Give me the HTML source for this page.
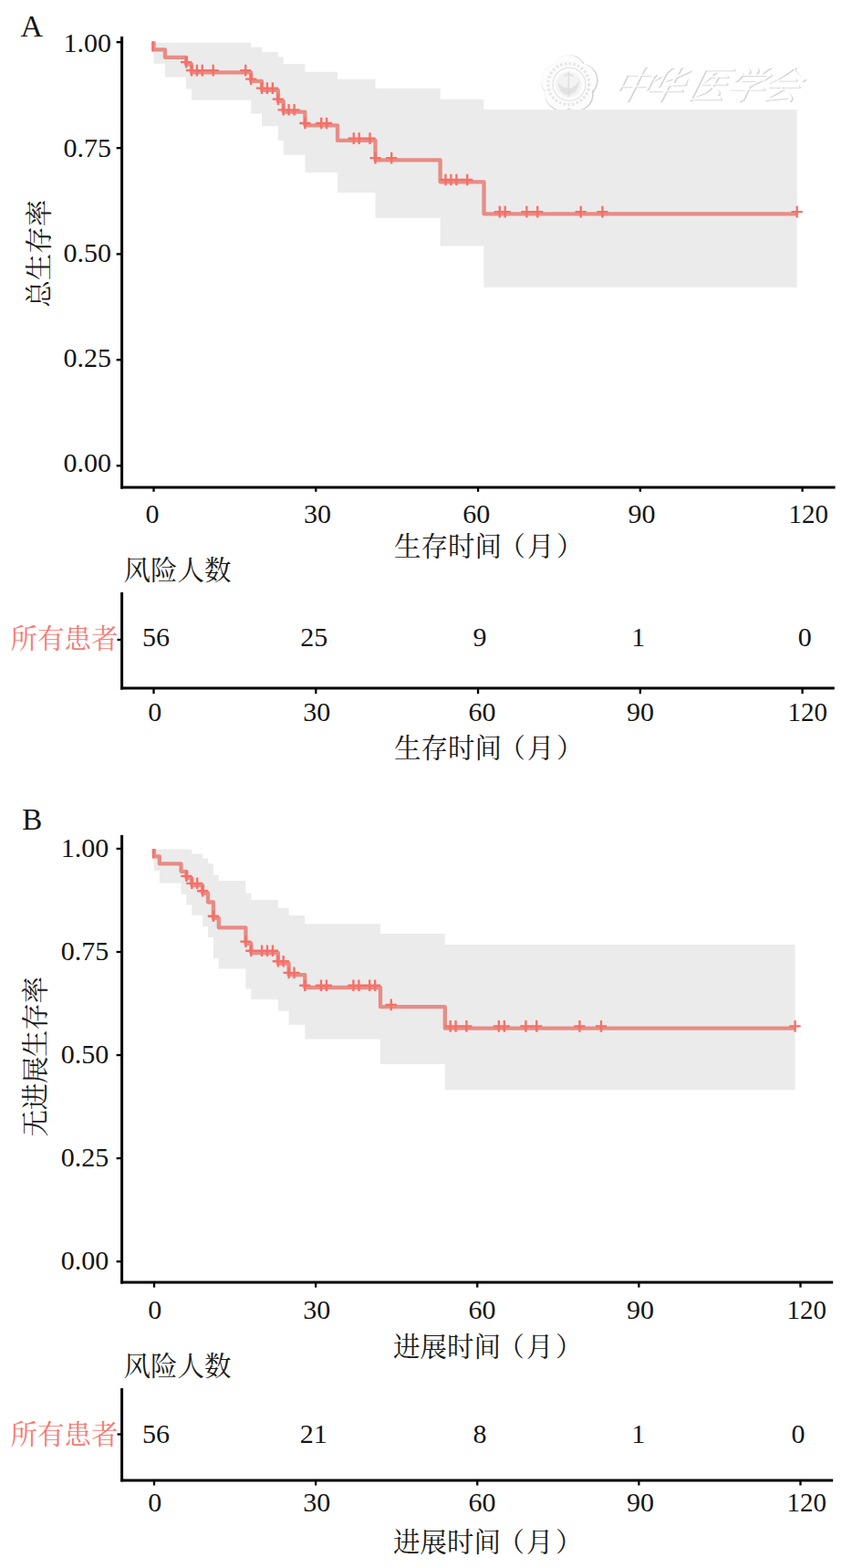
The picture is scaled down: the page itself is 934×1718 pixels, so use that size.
<!DOCTYPE html>
<html><head><meta charset="utf-8"><title>KM</title>
<style>
html,body{margin:0;padding:0;background:#fff;}
svg{display:block;font-family:"Liberation Serif","Noto Serif CJK SC",serif;}
.d{font-family:"Liberation Serif","Noto Serif CJK SC",serif;font-size:30px;fill:#141414;}
.d2{font-family:"Liberation Serif","Noto Serif CJK SC",serif;font-size:29px;fill:#141414;}
.c{font-family:"Liberation Serif","Noto Serif CJK SC",serif;font-size:29.5px;fill:#1a1a1a;}
.r{font-family:"Liberation Serif","Noto Serif CJK SC",serif;font-size:29.5px;fill:#F47A72;}
.w{font-family:"Liberation Serif","Noto Serif CJK SC",serif;font-size:42px;font-style:italic;}
</style></head><body>
<svg width="934" height="1718" viewBox="0 0 934 1718">
<defs>
<filter id="wb" x="-5%" y="-5%" width="110%" height="110%"><feGaussianBlur stdDeviation="0.55"/></filter>
</defs>
<desc>Kaplan-Meier 曲线。A：总生存率 / 生存时间（月），风险人数 所有患者 56 25 9 1 0；B：无进展生存率 / 进展时间（月），风险人数 所有患者 56 21 8 1 0</desc>
<rect width="934" height="1718" fill="#fff"/>
<g filter="url(#wb)"><text class="w" fill="#d6d6d6" transform="translate(0,109.4) skewX(-14)" x="669.4 705.4 752.4 794.4 833.4" y="0">中华医学会</text><text class="w" fill="#ffffff" transform="translate(0,108) skewX(-14)" x="668 704 751 793 832" y="0">中华医学会</text><g fill="none" stroke="#d2d2d2" stroke-width="1.7"><circle cx="624.2" cy="79.0" r="17.8"/><circle cx="637.0" cy="88.3" r="17.8"/><circle cx="632.1" cy="103.4" r="17.8"/><circle cx="616.3" cy="103.4" r="17.8"/><circle cx="611.4" cy="88.3" r="17.8"/></g><g fill="#fcfcfc" stroke="none" stroke-width="0"><circle cx="623.3" cy="78.1" r="17.8"/><circle cx="636.1" cy="87.4" r="17.8"/><circle cx="631.2" cy="102.5" r="17.8"/><circle cx="615.4" cy="102.5" r="17.8"/><circle cx="610.5" cy="87.4" r="17.8"/></g><circle cx="623.3" cy="92.1" r="22.5" fill="none" stroke="#e6e6e6" stroke-width="3.2" stroke-dasharray="2.6 2.2"/><circle cx="624.0" cy="92.3" r="18" fill="none" stroke="#e0e0e0" stroke-width="1.1"/><circle cx="623.3" cy="92.6" r="14" fill="#f3f3f3"/><path d="M611.3,89.6 q3,16 12,14 q10,0 12,-16 q-5,10 -12,9 q-8,0 -12,-7z" fill="#e2e2e2"/><path d="M623.3,78.6 v27 M618.3,83.6 q5,-4 10,0" stroke="#dedede" stroke-width="1.5" fill="none"/></g>
<text x="22.38" y="40.30" font-size="34" fill="#141414">A</text>
<line x1="133.60" y1="40.00" x2="133.60" y2="535.40" stroke="#000" stroke-width="3.0" stroke-linecap="butt"/>
<line x1="132.10" y1="533.90" x2="915.60" y2="533.90" stroke="#000" stroke-width="3.0" stroke-linecap="butt"/>
<line x1="127.60" y1="46.20" x2="133.00" y2="46.20" stroke="#000" stroke-width="2.3" stroke-linecap="butt"/>
<text class="d" x="69.58" y="57.30">1.00</text>
<line x1="127.60" y1="162.20" x2="133.00" y2="162.20" stroke="#000" stroke-width="2.3" stroke-linecap="butt"/>
<text class="d" x="69.58" y="172.25">0.75</text>
<line x1="127.60" y1="278.40" x2="133.00" y2="278.40" stroke="#000" stroke-width="2.3" stroke-linecap="butt"/>
<text class="d" x="69.58" y="287.20">0.50</text>
<line x1="127.60" y1="394.30" x2="133.00" y2="394.30" stroke="#000" stroke-width="2.3" stroke-linecap="butt"/>
<text class="d" x="69.58" y="402.15">0.25</text>
<line x1="127.60" y1="510.30" x2="133.00" y2="510.30" stroke="#000" stroke-width="2.3" stroke-linecap="butt"/>
<text class="d" x="69.58" y="517.10">0.00</text>
<line x1="168.50" y1="533.90" x2="168.50" y2="538.80" stroke="#000" stroke-width="2.3" stroke-linecap="butt"/>
<line x1="346.28" y1="533.90" x2="346.28" y2="538.80" stroke="#000" stroke-width="2.3" stroke-linecap="butt"/>
<line x1="524.06" y1="533.90" x2="524.06" y2="538.80" stroke="#000" stroke-width="2.3" stroke-linecap="butt"/>
<line x1="701.84" y1="533.90" x2="701.84" y2="538.80" stroke="#000" stroke-width="2.3" stroke-linecap="butt"/>
<line x1="879.62" y1="533.90" x2="879.62" y2="538.80" stroke="#000" stroke-width="2.3" stroke-linecap="butt"/>
<text class="d" x="159.57" y="573.00">0</text>
<text class="d" x="333.04" y="573.00">30</text>
<text class="d" x="507.14" y="573.00">60</text>
<text class="d" x="688.54" y="573.00">90</text>
<text class="d2" x="864.59" y="573.00">120</text>
<text class="c" x="432 461.5 491 520.5 546.5 578 610" y="609.30">生存时间（月）</text>
<text class="c" transform="translate(52.50,336.70) rotate(-90)" x="0" y="0">总生存率</text>
<polygon fill="#EBEBEB" points="168.5,46.7 275.2,46.7 275.2,51.7 287.0,51.7 287.0,57.1 304.8,57.1 304.8,62.5 310.7,62.5 310.7,70.0 334.4,70.0 334.4,78.7 370.0,78.7 370.0,86.7 411.5,86.7 411.5,96.7 482.6,96.7 482.6,108.8 530.3,108.8 530.3,120.0 873.7,120.0 873.7,314.7 530.3,314.7 530.3,269.6 482.6,269.6 482.6,238.8 411.5,238.8 411.5,211.1 370.0,211.1 370.0,188.9 334.4,188.9 334.4,169.7 310.7,169.7 310.7,154.1 304.8,154.1 304.8,138.2 287.0,138.2 287.0,124.4 275.2,124.4 275.2,109.7 210.0,109.7 210.0,97.6 204.1,97.6 204.1,84.6 180.9,84.6 180.9,69.8 168.5,69.8"/>
<path d="M168.5,45.3H168.5V54.4H180.9V62.8H204.1V70.4H210.0V79.4H275.2V88.9H287.0V98.9H304.8V110.9H310.7V122.6H334.4V137.3H370.0V153.9H411.5V175.4H482.6V199.3H530.5V234.4H873.7" fill="none" stroke="#E78C85" stroke-width="4.3" stroke-linejoin="round"/>
<rect x="166.3" y="45.3" width="2.15" height="11.3" fill="#F66F67"/>
<path d="M198.0,68.1h12.2M204.1,61.8v12.6M203.9,77.1h12.2M210.0,70.8v12.6M209.8,77.1h12.2M215.9,70.8v12.6M215.7,77.1h12.2M221.8,70.8v12.6M227.6,77.1h12.2M233.7,70.8v12.6M263.1,77.1h12.2M269.2,70.8v12.6M269.1,86.6h12.2M275.2,80.3v12.6M280.9,96.6h12.2M287.0,90.3v12.6M286.8,96.6h12.2M292.9,90.3v12.6M292.8,96.6h12.2M298.9,90.3v12.6M298.7,108.6h12.2M304.8,102.3v12.6M304.6,120.3h12.2M310.7,114.0v12.6M310.5,120.3h12.2M316.6,114.0v12.6M316.5,120.3h12.2M322.6,114.0v12.6M328.3,135.0h12.2M334.4,128.7v12.6M346.1,135.0h12.2M352.2,128.7v12.6M352.0,135.0h12.2M358.1,128.7v12.6M381.7,151.6h12.2M387.8,145.3v12.6M387.6,151.6h12.2M393.7,145.3v12.6M399.4,151.6h12.2M405.5,145.3v12.6M405.4,173.1h12.2M411.5,166.8v12.6M423.1,173.1h12.2M429.2,166.8v12.6M482.4,197.0h12.2M488.5,190.7v12.6M488.3,197.0h12.2M494.4,190.7v12.6M494.3,197.0h12.2M500.4,190.7v12.6M506.1,197.0h12.2M512.2,190.7v12.6M541.7,232.1h12.2M547.8,225.8v12.6M547.6,232.1h12.2M553.7,225.8v12.6M571.3,232.1h12.2M577.4,225.8v12.6M583.1,232.1h12.2M589.2,225.8v12.6M630.6,232.1h12.2M636.7,225.8v12.6M654.3,232.1h12.2M660.4,225.8v12.6M867.6,232.1h12.2M873.7,225.8v12.6" fill="none" stroke="#F66F67" stroke-width="2.35"/>
<text class="c" x="135.50" y="635.30">风险人数</text>
<line x1="133.60" y1="649.00" x2="133.60" y2="755.50" stroke="#000" stroke-width="3.0" stroke-linecap="butt"/>
<line x1="132.10" y1="754.00" x2="914.80" y2="754.00" stroke="#000" stroke-width="3.0" stroke-linecap="butt"/>
<line x1="128.50" y1="701.00" x2="133.00" y2="701.00" stroke="#000" stroke-width="2.3" stroke-linecap="butt"/>
<line x1="168.50" y1="754.00" x2="168.50" y2="760.20" stroke="#000" stroke-width="2.3" stroke-linecap="butt"/>
<line x1="346.28" y1="754.00" x2="346.28" y2="760.20" stroke="#000" stroke-width="2.3" stroke-linecap="butt"/>
<line x1="524.06" y1="754.00" x2="524.06" y2="760.20" stroke="#000" stroke-width="2.3" stroke-linecap="butt"/>
<line x1="701.84" y1="754.00" x2="701.84" y2="760.20" stroke="#000" stroke-width="2.3" stroke-linecap="butt"/>
<line x1="879.62" y1="754.00" x2="879.62" y2="760.20" stroke="#000" stroke-width="2.3" stroke-linecap="butt"/>
<text class="r" x="11.50" y="709.80">所有患者</text>
<text class="d" x="155.94" y="708.30">56</text>
<text class="d" x="329.24" y="708.30">25</text>
<text class="d" x="518.57" y="708.30">9</text>
<text class="d" x="692.17" y="708.30">1</text>
<text class="d" x="874.87" y="708.30">0</text>
<text class="d" x="162.17" y="790.00">0</text>
<text class="d" x="332.24" y="790.00">30</text>
<text class="d" x="513.44" y="790.00">60</text>
<text class="d" x="686.94" y="790.00">90</text>
<text class="d2" x="863.49" y="790.00">120</text>
<text class="c" x="432 461.5 491 520.5 546.5 578 610" y="830.30">生存时间（月）</text>
<text x="24.17" y="908.80" font-size="33" fill="#141414">B</text>
<line x1="133.60" y1="915.00" x2="133.60" y2="1406.60" stroke="#000" stroke-width="3.0" stroke-linecap="butt"/>
<line x1="132.10" y1="1405.10" x2="913.20" y2="1405.10" stroke="#000" stroke-width="3.0" stroke-linecap="butt"/>
<line x1="127.60" y1="929.90" x2="133.00" y2="929.90" stroke="#000" stroke-width="2.3" stroke-linecap="butt"/>
<text class="d" x="66.78" y="938.50">1.00</text>
<line x1="127.60" y1="1043.00" x2="133.00" y2="1043.00" stroke="#000" stroke-width="2.3" stroke-linecap="butt"/>
<text class="d" x="66.78" y="1051.60">0.75</text>
<line x1="127.60" y1="1156.05" x2="133.00" y2="1156.05" stroke="#000" stroke-width="2.3" stroke-linecap="butt"/>
<text class="d" x="66.78" y="1164.65">0.50</text>
<line x1="127.60" y1="1269.10" x2="133.00" y2="1269.10" stroke="#000" stroke-width="2.3" stroke-linecap="butt"/>
<text class="d" x="66.78" y="1277.70">0.25</text>
<line x1="127.60" y1="1382.20" x2="133.00" y2="1382.20" stroke="#000" stroke-width="2.3" stroke-linecap="butt"/>
<text class="d" x="66.78" y="1390.80">0.00</text>
<line x1="169.00" y1="1405.10" x2="169.00" y2="1410.60" stroke="#000" stroke-width="2.3" stroke-linecap="butt"/>
<line x1="346.12" y1="1405.10" x2="346.12" y2="1410.60" stroke="#000" stroke-width="2.3" stroke-linecap="butt"/>
<line x1="523.24" y1="1405.10" x2="523.24" y2="1410.60" stroke="#000" stroke-width="2.3" stroke-linecap="butt"/>
<line x1="700.36" y1="1405.10" x2="700.36" y2="1410.60" stroke="#000" stroke-width="2.3" stroke-linecap="butt"/>
<line x1="877.48" y1="1405.10" x2="877.48" y2="1410.60" stroke="#000" stroke-width="2.3" stroke-linecap="butt"/>
<text class="d" x="162.17" y="1445.00">0</text>
<text class="d" x="332.24" y="1445.00">30</text>
<text class="d" x="513.44" y="1445.00">60</text>
<text class="d" x="686.94" y="1445.00">90</text>
<text class="d2" x="862.59" y="1445.00">120</text>
<text class="c" x="431 460.5 490 519.5 545.5 577 609" y="1485.70">进展时间（月）</text>
<text class="c" transform="translate(49.30,1245.50) rotate(-90)" x="0 29.2 58.4 87.6 116.8 146" y="0">无进展生存率</text>
<polygon fill="#EBEBEB" points="169.0,930.4 210.3,930.4 210.3,935.4 222.1,935.4 222.1,940.4 228.0,940.4 228.0,945.9 233.9,945.9 233.9,958.8 239.8,958.8 239.8,965.1 269.4,965.1 269.4,978.5 275.3,978.5 275.3,986.0 304.8,986.0 304.8,994.7 316.6,994.7 316.6,1003.0 334.3,1003.0 334.3,1012.3 417.0,1012.3 417.0,1023.0 487.8,1023.0 487.8,1035.0 871.6,1035.0 871.6,1194.2 487.8,1194.2 487.8,1166.1 417.0,1166.1 417.0,1138.5 334.3,1138.5 334.3,1122.8 316.6,1122.8 316.6,1107.8 304.8,1107.8 304.8,1094.9 275.3,1094.9 275.3,1083.5 269.4,1083.5 269.4,1061.5 239.8,1061.5 239.8,1050.2 233.9,1050.2 233.9,1026.9 228.0,1026.9 228.0,1014.9 222.1,1014.9 222.1,1002.7 210.3,1002.7 210.3,991.5 204.4,991.5 204.4,979.8 198.5,979.8 198.5,967.6 174.9,967.6 174.9,953.8 169.0,953.8"/>
<path d="M169.0,930.0H169.0V938.4H174.9V946.4H198.5V954.8H204.4V962.1H210.3V970.1H222.1V978.5H228.0V988.5H233.9V1006.0H239.8V1016.3H269.4V1033.9H275.3V1044.0H304.8V1055.5H316.6V1068.2H334.3V1082.0H417.0V1103.2H487.8V1126.7H871.6" fill="none" stroke="#E78C85" stroke-width="4.3" stroke-linejoin="round"/>
<rect x="166.8" y="930.0" width="2.15" height="10.5" fill="#F66F67"/>
<path d="M198.3,959.8h12.2M204.4,953.5v12.6M204.2,967.8h12.2M210.3,961.5v12.6M210.1,967.8h12.2M216.2,961.5v12.6M216.0,976.2h12.2M222.1,969.9v12.6M227.8,1003.7h12.2M233.9,997.4v12.6M263.3,1031.6h12.2M269.4,1025.3v12.6M269.2,1041.7h12.2M275.3,1035.4v12.6M281.0,1041.7h12.2M287.1,1035.4v12.6M286.9,1041.7h12.2M293.0,1035.4v12.6M292.8,1041.7h12.2M298.9,1035.4v12.6M298.7,1053.2h12.2M304.8,1046.9v12.6M304.6,1053.2h12.2M310.7,1046.9v12.6M310.5,1065.9h12.2M316.6,1059.6v12.6M316.4,1065.9h12.2M322.5,1059.6v12.6M328.2,1079.7h12.2M334.3,1073.4v12.6M345.9,1079.7h12.2M352.0,1073.4v12.6M351.8,1079.7h12.2M357.9,1073.4v12.6M381.3,1079.7h12.2M387.4,1073.4v12.6M387.3,1079.7h12.2M393.4,1073.4v12.6M399.1,1079.7h12.2M405.2,1073.4v12.6M405.0,1079.7h12.2M411.1,1073.4v12.6M422.7,1100.9h12.2M428.8,1094.6v12.6M487.6,1124.4h12.2M493.7,1118.1v12.6M493.5,1124.4h12.2M499.6,1118.1v12.6M505.3,1124.4h12.2M511.4,1118.1v12.6M540.8,1124.4h12.2M546.9,1118.1v12.6M546.7,1124.4h12.2M552.8,1118.1v12.6M570.3,1124.4h12.2M576.4,1118.1v12.6M582.1,1124.4h12.2M588.2,1118.1v12.6M629.3,1124.4h12.2M635.4,1118.1v12.6M652.9,1124.4h12.2M659.0,1118.1v12.6M865.5,1124.4h12.2M871.6,1118.1v12.6" fill="none" stroke="#F66F67" stroke-width="2.35"/>
<text class="c" x="135.50" y="1506.50">风险人数</text>
<line x1="133.60" y1="1521.00" x2="133.60" y2="1623.35" stroke="#000" stroke-width="3.0" stroke-linecap="butt"/>
<line x1="132.25" y1="1622.00" x2="913.20" y2="1622.00" stroke="#000" stroke-width="3.0" stroke-linecap="butt"/>
<line x1="128.50" y1="1571.50" x2="133.00" y2="1571.50" stroke="#000" stroke-width="2.3" stroke-linecap="butt"/>
<line x1="169.00" y1="1622.00" x2="169.00" y2="1627.50" stroke="#000" stroke-width="2.3" stroke-linecap="butt"/>
<line x1="346.12" y1="1622.00" x2="346.12" y2="1627.50" stroke="#000" stroke-width="2.3" stroke-linecap="butt"/>
<line x1="523.24" y1="1622.00" x2="523.24" y2="1627.50" stroke="#000" stroke-width="2.3" stroke-linecap="butt"/>
<line x1="700.36" y1="1622.00" x2="700.36" y2="1627.50" stroke="#000" stroke-width="2.3" stroke-linecap="butt"/>
<line x1="877.48" y1="1622.00" x2="877.48" y2="1627.50" stroke="#000" stroke-width="2.3" stroke-linecap="butt"/>
<text class="r" x="11.50" y="1581.50">所有患者</text>
<text class="d" x="155.94" y="1581.00">56</text>
<text class="d" x="328.74" y="1581.00">21</text>
<text class="d" x="518.57" y="1581.00">8</text>
<text class="d" x="692.37" y="1581.00">1</text>
<text class="d" x="867.57" y="1581.00">0</text>
<text class="d" x="162.17" y="1656.00">0</text>
<text class="d" x="332.24" y="1656.00">30</text>
<text class="d" x="513.44" y="1656.00">60</text>
<text class="d" x="686.94" y="1656.00">90</text>
<text class="d2" x="862.59" y="1656.00">120</text>
<text class="c" x="431 460.5 490 519.5 545.5 577 609" y="1700.30">进展时间（月）</text>
</svg>
</body></html>
